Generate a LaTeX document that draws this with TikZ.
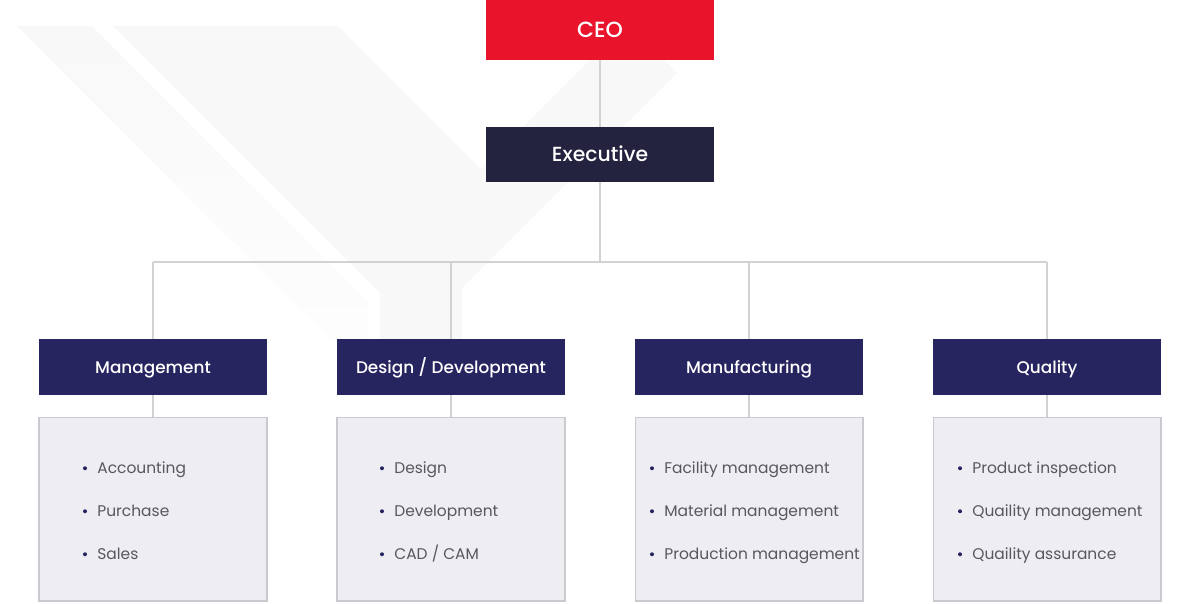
\documentclass[tikz,border=0pt]{standalone}
\usepackage{fontspec}
\setmainfont{Poppins}
\newfontfamily\medfont{Poppins}[UprightFont=* Medium]
\usepackage{tikz}
\usetikzlibrary{positioning}

\definecolor{ceored}{HTML}{E9142C}
\definecolor{execnavy}{HTML}{24233F}
\definecolor{deptnavy}{HTML}{272560}
\definecolor{listbg}{HTML}{EDEDF2}
\definecolor{listborder}{HTML}{C9C9CF}
\definecolor{linegray}{HTML}{D2D2D2}
\definecolor{itemgray}{HTML}{58585C}
\definecolor{markbg}{HTML}{F8F8F8}
\definecolor{markfade}{HTML}{FDFDFD}

\tikzset{
  topbox/.style={minimum width=4.56cm, text=white, inner sep=0pt, text height=0.84em, text depth=0pt},
  deptbox/.style={fill=deptnavy, minimum width=4.56cm, minimum height=1.12cm, text=white, inner sep=0pt,
    text height=0.7em, text depth=0pt, font=\medfont\fontsize{9.6}{12}\selectfont},
  listbox/.style={fill=listbg, draw=listborder, line width=0.6pt, minimum width=4.56cm, minimum height=3.68cm, inner sep=0pt},
  item/.style={anchor=base west, inner sep=0pt, text=itemgray, font=\fontsize{8.8}{11}\selectfont},
  link/.style={draw=linegray, line width=0.6pt}
}

\begin{document}
\begin{tikzpicture}[x=0.02cm, y=-0.02cm]
      \useasboundingbox (0,0) rectangle (1200,603);

      \path[top color=markbg, bottom color=markfade] (17,26) -- (92,26) -- (368,302) -- (368,339) -- (330,339) -- cycle;
      \fill[markbg] (113,26) -- (338,26) -- (481,169) -- (624,26) -- (630,26) -- (677,73)
        -- (462,288) -- (462,339) -- (380,339) -- (380,293) -- cycle;

      \node[topbox, fill=ceored, minimum height=1.2cm, font=\medfont\fontsize{12.5}{14}\selectfont] (ceo) at (600,30) {CEO};
      \node[topbox, fill=execnavy, minimum height=1.1cm, font=\medfont\fontsize{11.6}{13}\selectfont] (exec) at (600,154.5) {Executive};
      \coordinate (bus) at (600,262);
      \draw[link] (ceo) -- (exec);
      \draw[link] (exec.south) -- (bus);

      \foreach \x/\i/\name in {153/1/Management, 451/2/{Design / Development}, 749/3/Manufacturing, 1047/4/Quality} {
        \node[deptbox] (d\i) at (\x,367) {\name};
        \node[listbox] (l\i) at (\x,509) {};
        \draw[link] (d\i.north) -- (d\i.north |- bus);
        \draw[link] (d\i) -- (l\i);
      }
      \draw[link] (d1.north |- bus) -- (d4.north |- bus);

      \foreach \i/\lx/\a/\b/\c in {1/97/Accounting/Purchase/Sales, 2/394/Design/Development/{CAD / CAM},
          3/664/Facility management/Material management/Production management,
          4/972/Product inspection/Quaility management/Quaility assurance} {
        \foreach \t [count=\j] in {\a,\b,\c} {
          \node[item] (t\i\j) at (\lx,{430+43*\j}) {\t};
          \fill[deptnavy] ([xshift=-0.24cm, yshift=0.095cm]t\i\j.base west) circle (0.04cm);
        }
      }
    \end{tikzpicture}
\end{document}
